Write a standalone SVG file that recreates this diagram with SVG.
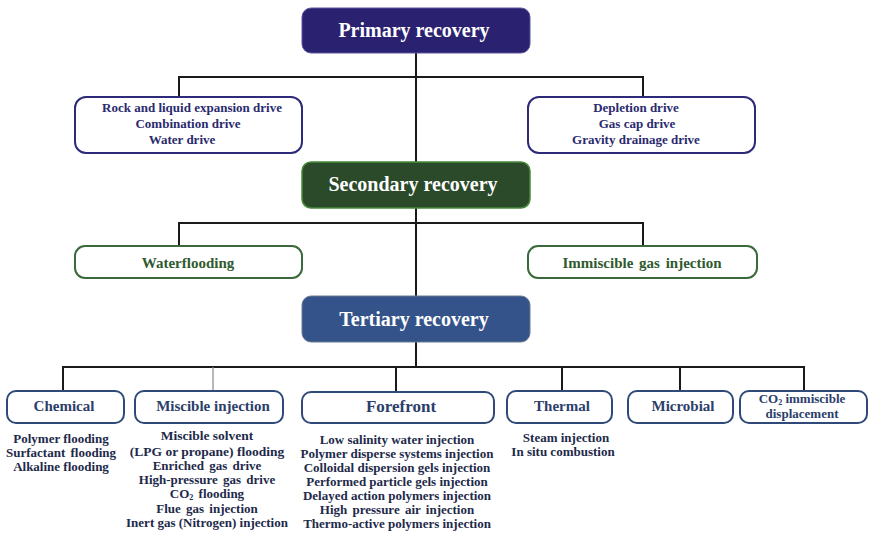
<svg xmlns="http://www.w3.org/2000/svg" width="869" height="535" viewBox="0 0 869 535">
<style>
text{font-family:"Liberation Serif","Times New Roman",serif;font-weight:bold;text-anchor:middle}
.title{font-size:20px;fill:#ffffff}
.pb{fill:none;stroke:#2e2a7a;stroke-width:2}
.pt{font-size:13px;fill:#2a2a6e}
.sb{fill:none;stroke:#3a6a3a;stroke-width:2}
.st{font-size:15px;fill:#2f5a2f}
.tb{fill:none;stroke:#2f4a78;stroke-width:2}
.tt{font-size:15px;fill:#2c3e6a}
.lt{font-size:13px;fill:#1e2a4a}
.conn{stroke:#1a1a1a;stroke-width:2;fill:none}
</style>
<rect width="869" height="535" fill="#ffffff"/>
<g id="connectors">
<path class="conn" d="M416 53V162M416 208V296M416 342V367"/>
<path class="conn" d="M179 98V77H643V98"/>
<path class="conn" d="M179 246V223H643V246"/>
<path class="conn" d="M63 391V367H804V391"/>
<path class="conn" d="M396 367V392M562 367V391M680 367V391"/>
<path d="M213 367V391" stroke="#888888" stroke-width="1.2"/>
</g>
<g id="primary">
<rect x="302" y="8" width="228" height="45" rx="9" fill="#2a2270" stroke="#5a55a0" stroke-width="1"/>
<text class="title" x="414" y="37">Primary recovery</text>
</g>
<g id="primary-left">
<rect class="pb" x="75" y="97" width="227" height="56" rx="11"/>
<text class="pt" x="192" y="112">Rock and liquid expansion drive</text>
<text class="pt" x="188" y="128">Combination drive</text>
<text class="pt" x="182" y="144">Water drive</text>
</g>
<g id="primary-right">
<rect class="pb" x="528" y="97" width="227" height="56" rx="11"/>
<text class="pt" x="636" y="112">Depletion drive</text>
<text class="pt" x="637" y="128">Gas cap drive</text>
<text class="pt" x="636" y="144">Gravity drainage drive</text>
</g>
<g id="secondary">
<rect x="302" y="162" width="228" height="46" rx="9" fill="#2a4a2a" stroke="#4a8a3a" stroke-width="1.5"/>
<text class="title" x="413" y="191">Secondary recovery</text>
</g>
<g id="waterflooding">
<rect class="sb" x="75" y="246" width="227" height="32" rx="10"/>
<text class="st" x="188" y="268">Waterflooding</text>
</g>
<g id="immiscible-gas">
<rect class="sb" x="528" y="246" width="229" height="32" rx="10"/>
<text class="st" x="642" y="268" word-spacing="2">Immiscible gas injection</text>
</g>
<g id="tertiary">
<rect x="302" y="296" width="228" height="46" rx="9" fill="#34538a" stroke="#6a7a90" stroke-width="1"/>
<text class="title" x="414" y="326">Tertiary recovery</text>
</g>
<g id="chemical">
<rect class="tb" x="7" y="391" width="117" height="32" rx="9"/>
<text class="tt" x="64" y="411">Chemical</text>
<text class="lt" x="61" y="443">Polymer flooding</text>
<text class="lt" x="61" y="457" word-spacing="2">Surfactant flooding</text>
<text class="lt" x="61" y="471">Alkaline flooding</text>
</g>
<g id="miscible">
<rect class="tb" x="135" y="391" width="148" height="32" rx="9"/>
<text class="tt" x="213" y="411">Miscible injection</text>
<text class="lt" x="207" y="440" style="font-size:13.5px">Miscible solvent</text>
<text class="lt" x="207" y="456" style="font-size:13.5px">(LPG or propane) flooding</text>
<text class="lt" x="207" y="470" word-spacing="2">Enriched gas drive</text>
<text class="lt" x="207" y="484" word-spacing="2">High-pressure gas drive</text>
<text class="lt" x="207" y="498">CO<tspan font-size="8" dy="2">2</tspan><tspan dy="-2" word-spacing="2"> flooding</tspan></text>
<text class="lt" x="207" y="513" word-spacing="2">Flue gas injection</text>
<text class="lt" x="207" y="527">Inert  gas (Nitrogen) injection</text>
</g>
<g id="forefront">
<rect class="tb" x="302" y="392" width="192" height="31" rx="9"/>
<text class="tt" x="401" y="412" style="font-size:17px">Forefront</text>
<text class="lt" x="397" y="444">Low salinity water injection</text>
<text class="lt" x="397" y="458">Polymer disperse systems injection</text>
<text class="lt" x="397" y="472">Colloidal dispersion gels injection</text>
<text class="lt" x="397" y="486">Performed particle gels injection</text>
<text class="lt" x="397" y="500">Delayed action polymers injection</text>
<text class="lt" x="397" y="514" word-spacing="2">High pressure air injection</text>
<text class="lt" x="397" y="528">Thermo-active polymers injection</text>
</g>
<g id="thermal">
<rect class="tb" x="507" y="391" width="105" height="32" rx="9"/>
<text class="tt" x="562" y="411">Thermal</text>
<text class="lt" x="566" y="442">Steam injection</text>
<text class="lt" x="563" y="456">In situ combustion</text>
</g>
<g id="microbial">
<rect class="tb" x="628" y="391" width="105" height="32" rx="9"/>
<text class="tt" x="683" y="411">Microbial</text>
</g>
<g id="co2-immiscible">
<rect class="tb" x="740" y="391" width="127" height="32" rx="9"/>
<text class="tt" x="802" y="403" style="font-size:13px">CO<tspan font-size="8" dy="2">2</tspan><tspan dy="-2"> immiscible</tspan></text>
<text class="tt" x="802" y="418" style="font-size:13px">displacement</text>
</g>
</svg>
